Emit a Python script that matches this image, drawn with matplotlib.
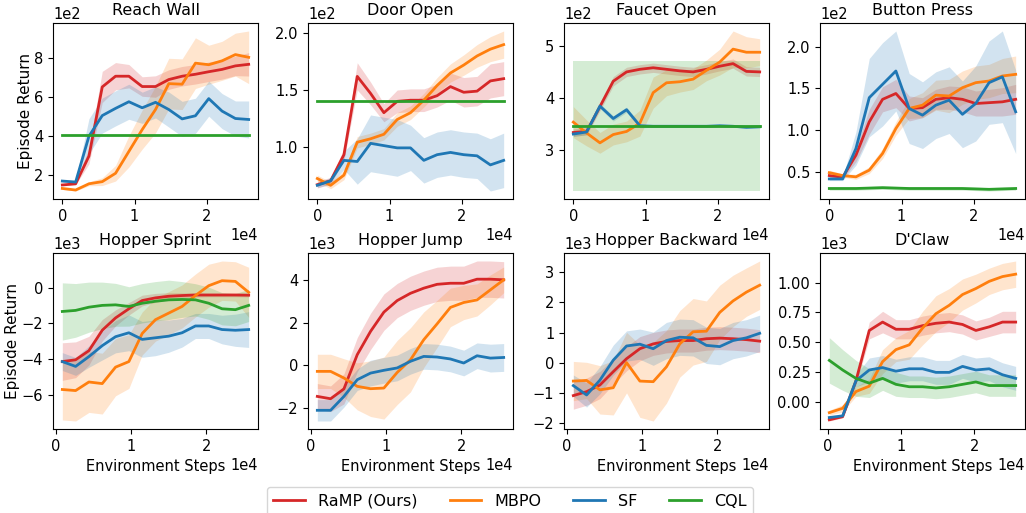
import matplotlib
matplotlib.use("Agg")
import matplotlib.pyplot as plt
import numpy as np

# x positions (environment steps)
steps = [0, 1843, 3686, 5529, 7371, 9214, 11057, 12900, 14743, 16586, 18429, 20271, 22114, 23957, 25800]
hopper_steps = [875, 2640, 4410, 6180, 7950, 9720, 11490, 13250, 15020, 16790, 18560, 20330, 22100, 23870, 25640]
dclaw_steps = [180, 2000, 3820, 5640, 7460, 9280, 11100, 12920, 14740, 16560, 18380, 20200, 22020, 23840, 25640]

methods = ["RaMP (Ours)", "MBPO", "SF", "CQL"]
colors = ["tab:red", "tab:orange", "tab:blue", "tab:green"]

# Reach Wall
reach_ramp = [147, 153, 295, 650, 705, 705, 652, 652, 688, 705, 715, 728, 740, 758, 766]
reach_ramp_sd = [5, 5, 40, 80, 70, 60, 50, 55, 50, 50, 50, 50, 50, 50, 60]
reach_mbpo = [129, 121, 153, 164, 207, 319, 431, 534, 667, 664, 772, 764, 784, 816, 802]
reach_mbpo_sd = [5, 5, 10, 20, 40, 80, 100, 120, 130, 130, 130, 100, 100, 110, 135]
reach_sf = [167, 162, 397, 503, 540, 574, 543, 571, 534, 486, 502, 590, 526, 488, 483]
reach_sf_sd = [5, 5, 90, 90, 90, 90, 80, 80, 90, 90, 90, 90, 90, 90, 95]
reach_cql = [405] * 15
reach_cql_sd = [0] * 15

# Door Open
door_ramp = [66.6, 70, 93, 162, 147, 130, 140, 141, 141, 145, 153, 148, 149, 158, 160]
door_ramp_sd = [3, 3, 5, 12, 10, 8, 10, 10, 10, 10, 12, 13, 13, 15, 15]
door_mbpo = [72, 66, 75, 104, 107, 111, 124, 130, 141, 154, 165, 172, 180, 186, 190]
door_mbpo_sd = [3, 3, 4, 5, 5, 5, 6, 6, 6, 7, 8, 9, 10, 11, 12]
door_sf = [66, 70, 88, 87, 103, 101, 99, 99, 88, 93, 95, 93, 92, 84, 88]
door_sf_sd = [2, 3, 8, 20, 25, 25, 25, 20, 20, 20, 20, 20, 20, 23, 24]
door_cql = [140] * 15
door_cql_sd = [0.4] * 15

# Faucet Open
faucet_ramp = [333, 335, 383, 432, 450, 455, 458, 455, 452, 450, 455, 461, 466, 451, 450]
faucet_ramp_sd = [7, 7, 8, 9, 9, 9, 9, 9, 9, 9, 9, 9, 9, 9, 9]
faucet_mbpo = [353, 332, 313, 329, 335, 351, 410, 429, 431, 436, 453, 469, 494, 488, 488]
faucet_mbpo_sd = [30, 25, 20, 20, 20, 25, 30, 25, 20, 20, 20, 25, 35, 30, 26]
faucet_sf = [330, 334, 384, 360, 377, 346, 345, 345, 345, 345, 345, 346, 345, 343, 344]
faucet_sf_sd = [5, 5, 5, 5, 5, 4, 2, 2, 2, 2, 2, 2, 2, 2, 2]
faucet_cql = [345.5] * 15
faucet_cql_sd = [125.5] * 15

# Button Press
button_ramp = [45.5, 43.5, 70, 110, 137, 144, 126, 127, 137, 139, 137, 132, 133, 134, 137]
button_ramp_sd = [2, 2, 8, 15, 15, 17, 15, 12, 12, 14, 15, 15, 16, 17, 18]
button_mbpo = [49, 45.5, 44, 52, 72, 102, 126, 130, 142, 141, 151, 157, 159, 165, 167]
button_mbpo_sd = [3, 2, 3, 4, 6, 8, 12, 15, 18, 20, 20, 20, 20, 21, 22]
button_sf = [41.5, 41.5, 78, 139, 155, 171, 126, 118, 130, 136, 119, 132, 157, 164, 122]
button_sf_sd = [2, 2, 20, 47, 50, 48, 42, 40, 40, 40, 40, 45, 50, 55, 50]
button_cql = [30, 30, 30, 30.5, 31, 30.5, 30, 30, 30, 30, 30, 29.5, 29, 29.5, 30]
button_cql_sd = [2] * 15

# Hopper Sprint
sprint_ramp = [-4130, -4030, -3520, -2380, -1690, -1180, -720, -570, -480, -440, -410, -410, -410, -410, -420]
sprint_ramp_sd = [1050, 1000, 800, 600, 450, 350, 300, 250, 200, 150, 120, 100, 100, 100, 100]
sprint_mbpo = [-5690, -5750, -5270, -5360, -4440, -4130, -2560, -1790, -1420, -1050, -440, 110, 390, 350, -260]
sprint_mbpo_sd = [1700, 1700, 1700, 1700, 1600, 1500, 1200, 1200, 1200, 1200, 1200, 1200, 1100, 1100, 1400]
sprint_sf = [-4130, -4400, -3850, -3240, -2740, -2520, -2890, -2800, -2710, -2520, -2140, -2140, -2340, -2380, -2340]
sprint_sf_sd = [500, 500, 600, 800, 900, 1000, 1000, 1000, 900, 800, 700, 700, 800, 900, 1000]
sprint_cql = [-1330, -1270, -1090, -990, -960, -1050, -870, -760, -680, -660, -680, -870, -1180, -1230, -990]
sprint_cql_sd = [1600, 1500, 1400, 1300, 1200, 1100, 1100, 1100, 1100, 1000, 900, 900, 900, 900, 900]

# Hopper Jump
jump_ramp = [-1450, -1560, -1100, 500, 1590, 2490, 3030, 3370, 3610, 3790, 3840, 3840, 4030, 4030, 4000]
jump_ramp_sd = [600, 600, 700, 800, 850, 850, 800, 800, 800, 800, 800, 800, 850, 850, 850]
jump_mbpo = [-280, -280, -590, -980, -1090, -1060, -330, 260, 1200, 1940, 2710, 2940, 3060, 3530, 4000]
jump_mbpo_sd = [800, 800, 900, 1100, 1300, 1450, 1500, 1500, 1300, 1100, 900, 800, 750, 700, 600]
jump_sf = [-2100, -2100, -1450, -670, -360, -230, -120, 190, 420, 390, 300, 110, 450, 340, 370]
jump_sf_sd = [500, 500, 500, 500, 600, 600, 600, 600, 600, 600, 600, 600, 600, 650, 650]

# Hopper Backward
back_ramp = [-1080, -950, -730, -290, 140, 470, 630, 710, 740, 740, 800, 820, 800, 770, 720]
back_ramp_sd = [450, 450, 450, 420, 400, 400, 380, 380, 380, 380, 380, 380, 380, 380, 380]
back_mbpo = [-600, -580, -890, -820, 10, -600, -620, -130, 630, 1030, 1050, 1670, 2050, 2340, 2570]
back_mbpo_sd = [650, 600, 800, 900, 1000, 1200, 1300, 1200, 1100, 1100, 1000, 900, 850, 800, 800]
back_sf = [-750, -1060, -570, 90, 560, 620, 470, 740, 850, 830, 580, 540, 740, 830, 980]
back_sf_sd = [350, 400, 450, 500, 500, 500, 550, 600, 600, 600, 600, 600, 600, 600, 600]

# D'Claw
claw_ramp = [-146, -120, 180, 600, 670, 610, 610, 640, 660, 670, 650, 600, 630, 670, 670]
claw_ramp_sd = [10, 10, 30, 70, 90, 80, 80, 80, 80, 80, 80, 80, 80, 90, 90]
claw_mbpo = [-86, -50, 90, 135, 340, 440, 480, 620, 740, 810, 900, 950, 1010, 1050, 1070]
claw_mbpo_sd = [20, 30, 40, 60, 100, 100, 120, 140, 150, 140, 130, 120, 110, 110, 110]
claw_sf = [-127, -113, 180, 270, 290, 260, 280, 280, 250, 250, 300, 270, 280, 230, 200]
claw_sf_sd = [10, 10, 50, 100, 100, 100, 100, 100, 100, 100, 100, 100, 100, 100, 100]
claw_cql = [350, 270, 200, 160, 200, 150, 130, 130, 120, 130, 150, 170, 140, 140, 140]
claw_cql_sd = [190, 170, 150, 120, 100, 100, 90, 90, 90, 90, 90, 90, 90, 90, 90]

panels = [
    ("Reach Wall", steps, [(reach_ramp, reach_ramp_sd), (reach_mbpo, reach_mbpo_sd), (reach_sf, reach_sf_sd), (reach_cql, reach_cql_sd)]),
    ("Door Open", steps, [(door_ramp, door_ramp_sd), (door_mbpo, door_mbpo_sd), (door_sf, door_sf_sd), (door_cql, door_cql_sd)]),
    ("Faucet Open", steps, [(faucet_ramp, faucet_ramp_sd), (faucet_mbpo, faucet_mbpo_sd), (faucet_sf, faucet_sf_sd), (faucet_cql, faucet_cql_sd)]),
    ("Button Press", steps, [(button_ramp, button_ramp_sd), (button_mbpo, button_mbpo_sd), (button_sf, button_sf_sd), (button_cql, button_cql_sd)]),
    ("Hopper Sprint", hopper_steps, [(sprint_ramp, sprint_ramp_sd), (sprint_mbpo, sprint_mbpo_sd), (sprint_sf, sprint_sf_sd), (sprint_cql, sprint_cql_sd)]),
    ("Hopper Jump", hopper_steps, [(jump_ramp, jump_ramp_sd), (jump_mbpo, jump_mbpo_sd), (jump_sf, jump_sf_sd), None]),
    ("Hopper Backward", hopper_steps, [(back_ramp, back_ramp_sd), (back_mbpo, back_mbpo_sd), (back_sf, back_sf_sd), None]),
    ("D'Claw", dclaw_steps, [(claw_ramp, claw_ramp_sd), (claw_mbpo, claw_mbpo_sd), (claw_sf, claw_sf_sd), (claw_cql, claw_cql_sd)]),
]

fig = plt.figure(figsize=(10.26, 5.13), dpi=100)

lefts = [53, 308, 564, 820]
bottoms = [199, 429]
W, H = 1026.0, 513.0

handles = []
for k, (title, x, series) in enumerate(panels):
    row, col = divmod(k, 4)
    ax = fig.add_axes([lefts[col] / W, 1 - bottoms[row] / H, 205 / W, 176 / H])
    x = np.asarray(x)
    for j, s in enumerate(series):
        if s is None:
            continue
        m, sd = np.asarray(s[0], float), np.asarray(s[1], float)
        ax.fill_between(x, m - sd, m + sd, color=colors[j], alpha=0.2, linewidth=0)
        line, = ax.plot(x, m, color=colors[j], linewidth=2, label=methods[j])
        if k == 0:
            handles.append(line)
    ax.ticklabel_format(style="sci", axis="both", scilimits=(0, 0))
    ax.tick_params(labelsize=10.5)
    ax.xaxis.get_offset_text().set_fontsize(10.5)
    ax.yaxis.get_offset_text().set_fontsize(10.5)
    ax.set_title(title, fontsize=11.5)
    if col == 0:
        ax.set_ylabel("Episode Return", fontsize=11, labelpad=1)
    if row == 1:
        ax.set_xlabel("Environment Steps", fontsize=10.5)

fig.legend(handles, methods, loc="upper center", bbox_to_anchor=(0.497, 0.066),
           ncol=4, fontsize=11.5)

fig.savefig("out.png", dpi=100)
